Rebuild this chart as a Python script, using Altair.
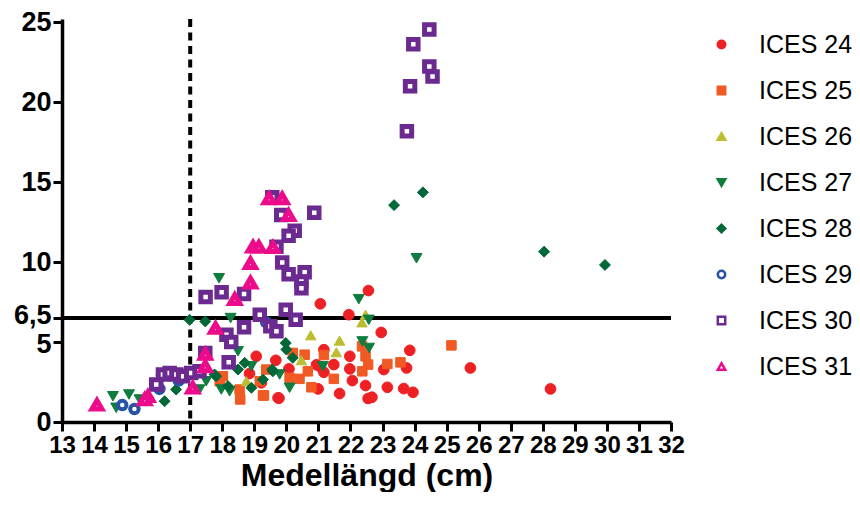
import altair as alt
import pandas as pd

series = ["ICES 24", "ICES 25", "ICES 26", "ICES 27", "ICES 28", "ICES 29", "ICES 30", "ICES 31"]

x24 = [22.56, 21.06, 21.95, 22.96, 23.85, 25.74, 28.24, 19.67, 19.06, 21.17, 21.98, 21.48, 21.04, 21.17, 21.98, 22.06,
       22.47, 20.99, 21.66, 19.77, 22.55, 22.67, 23.15, 23.66, 23.95, 23.75, 23.04, 20.08, 18.85, 19.22, 19.74, 20.94]
y24 = [8.22, 7.39, 6.71, 5.60, 4.48, 3.38, 2.07, 3.86, 4.11, 4.52, 4.11, 3.59, 3.48, 3.11, 3.32, 2.59,
       2.28, 2.07, 1.78, 1.49, 1.47, 1.55, 2.17, 2.09, 1.86, 3.38, 3.28, 3.32, 3.03, 2.45, 1.51, 3.58]

x25 = [25.15, 22.36, 22.47, 22.55, 22.37, 23.15, 23.56, 21.17, 20.57, 20.67, 20.41, 20.78, 21.48, 20.10, 19.30, 18.56,
       19.27, 19.17, 17.92, 18.54, 18.02, 19.37, 20.20]
y25 = [4.79, 4.73, 4.11, 3.59, 3.17, 3.63, 3.73, 4.19, 4.21, 3.17, 2.70, 2.17, 2.70, 2.76, 1.66, 1.41,
       1.66, 2.55, 2.55, 2.03, 2.86, 3.28, 4.32]

x26 = [20.76, 21.66, 21.56, 20.47, 22.47, 22.36, 18.75]
y26 = [5.42, 5.09, 4.36, 3.86, 6.71, 6.23, 2.55]

x27 = [14.59, 14.69, 15.09, 15.42, 17.90, 18.26, 18.49, 17.29, 17.97, 18.23, 18.91, 17.50, 19.79, 20.10, 22.26, 22.57,
       21.14, 22.37, 22.58, 24.06, 16.10]
y27 = [1.61, 0.89, 1.72, 1.41, 8.99, 6.50, 4.42, 2.03, 2.03, 1.92, 3.48, 2.55, 2.97, 2.14, 7.68, 6.39,
       3.48, 5.04, 4.63, 10.24, 2.65]

x28 = [24.26, 23.36, 28.04, 29.94, 16.98, 17.47, 16.20, 16.56, 17.76, 18.18, 18.49, 18.70, 18.91, 19.27, 19.58, 19.98,
       20.00, 20.20, 19.56, 17.81]
y28 = [14.36, 13.56, 10.65, 9.82, 6.39, 6.29, 1.30, 2.03, 2.97, 2.24, 3.28, 3.70, 2.14, 2.65, 3.17, 4.94,
       4.53, 4.01, 3.28, 2.86]

x29 = [14.88, 15.26, 16.04, 16.64, 19.37]
y29 = [1.06, 0.81, 2.07, 2.59, 6.23]

x30 = [24.46, 23.96, 24.46, 24.56, 23.86, 23.76, 19.56, 19.84, 20.87, 20.26, 20.07, 19.69, 19.87, 20.07, 20.57, 20.47,
       20.47, 17.48, 17.98, 18.68, 19.17, 19.98, 20.29, 19.50, 19.69, 18.68, 18.13, 18.28, 17.47, 18.20, 15.94, 16.15,
       16.36, 16.57, 16.78, 17.03, 17.29]
y30 = [24.54, 23.62, 22.23, 21.61, 21.00, 18.18, 14.05, 12.94, 13.08, 11.96, 11.65, 10.96, 9.97, 9.24, 9.37, 8.78,
       8.37, 7.81, 8.12, 8.00, 6.71, 7.02, 6.40, 5.98, 5.67, 5.92, 5.46, 5.00, 4.32, 3.73, 2.34, 2.97,
       3.07, 2.97, 2.86, 3.07, 3.17]

x31 = [19.46, 19.87, 20.07, 18.96, 19.14, 19.58, 18.88, 18.88, 18.39, 17.79, 17.47, 17.47, 17.08, 15.68, 15.58, 14.09]
y31 = [13.98, 13.98, 12.94, 10.96, 10.96, 10.93, 9.93, 8.72, 7.68, 5.88, 4.25, 3.48, 2.14, 1.61, 1.41, 1.08]

x_ticks = list(range(13, 33))
y_ticks = [0, 5, 6.5, 10, 15, 20, 25]
v_line = [17]
h_line = [6.5]

xs = [x24, x25, x26, x27, x28, x29, x30, x31]
ys = [y24, y25, y26, y27, y28, y29, y30, y31]

rows = []
for name, xv, yv in zip(series, xs, ys):
    for a, b in zip(xv, yv):
        rows.append({"omrade": name, "x": a, "y": b})
df = pd.DataFrame(rows)

colors = ["#ED2024", "#F15A24", "#BDBD30", "#0E7D3E", "#006838", "#2752A5", "#6A2A8F", "#EC0C8B"]
fills = colors[:5] + ["white", "white", "white"]
shapes = ["circle", "square", "triangle-up", "triangle-down", "diamond", "circle", "square", "triangle-up"]
sizes = [115, 90, 110, 120, 120, 72, 90, 100]
stroke_widths = [1, 1, 1, 1, 1, 4, 5, 5]

FONT = "Liberation Sans, Arial, sans-serif"

xenc = alt.X("x:Q", scale=alt.Scale(domain=[13, 32], nice=False, zero=False),
             axis=alt.Axis(values=x_ticks, title="Medellängd (cm)", labelFontSize=24, labelPadding=2,
                           titleFontSize=32, titleY=38, titleBaseline="top",
                           labelFlush=False, labelOverlap=False))
yenc = alt.Y("y:Q", scale=alt.Scale(domain=[0, 25.2], nice=False),
             axis=alt.Axis(values=y_ticks, title=None, labelFontSize=27, labelPadding=2,
                           labelExpr="datum.value == 6.5 ? '6,5' : datum.label",
                           labelOffset={"condition": [{"test": "datum.value == 6.5", "value": -3},
                                                      {"test": "datum.value == 5", "value": 2}],
                                        "value": 0},
                           labelFlush=False, labelOverlap=False))

leg = alt.Legend(title=None, orient="none", legendX=647, legendY=13, labelFontSize=25, labelFont=FONT,
                 labelColor="black", rowPadding=20, labelOffset=25, symbolSize=55, symbolStrokeWidth=2.5,
                 symbolOpacity=1, padding=0, labelLimit=200)

fill_enc = alt.Fill("omrade:N", scale=alt.Scale(domain=series, range=fills), legend=leg)
stroke_enc = alt.Stroke("omrade:N", scale=alt.Scale(domain=series, range=colors), legend=leg)
shape_enc = alt.Shape("omrade:N", scale=alt.Scale(domain=series, range=shapes), legend=leg)

vrule = alt.Chart(pd.DataFrame({"x": v_line})).mark_rule(
    color="black", strokeWidth=4, strokeDash=[8, 5.5]).encode(x=xenc)
hrule = alt.Chart(pd.DataFrame({"y": h_line})).mark_rule(
    color="black", strokeWidth=4).encode(y=yenc)

layers = [vrule, hrule]
for i, name in enumerate(series):
    layers.append(
        alt.Chart(df).transform_filter(alt.datum.omrade == name)
        .mark_point(size=sizes[i], strokeWidth=stroke_widths[i], opacity=1)
        .encode(x=xenc, y=yenc, fill=fill_enc, stroke=stroke_enc, shape=shape_enc)
    )

chart = alt.layer(*layers).properties(
    width=609, height=403,
    autosize=alt.AutoSizeParams(type="none"),
    padding={"left": 54, "top": 11, "right": 181, "bottom": 70},
).configure_view(stroke=None).configure_axis(
    grid=False, domainColor="black", tickColor="black", labelColor="black", titleColor="black",
    domainWidth=3.5, tickWidth=3, tickSize=9, labelFont=FONT, labelFontWeight="bold",
    titleFont=FONT, titleFontWeight="bold",
)

chart.save("out.html", embed_options={"renderer": "svg", "actions": False})
